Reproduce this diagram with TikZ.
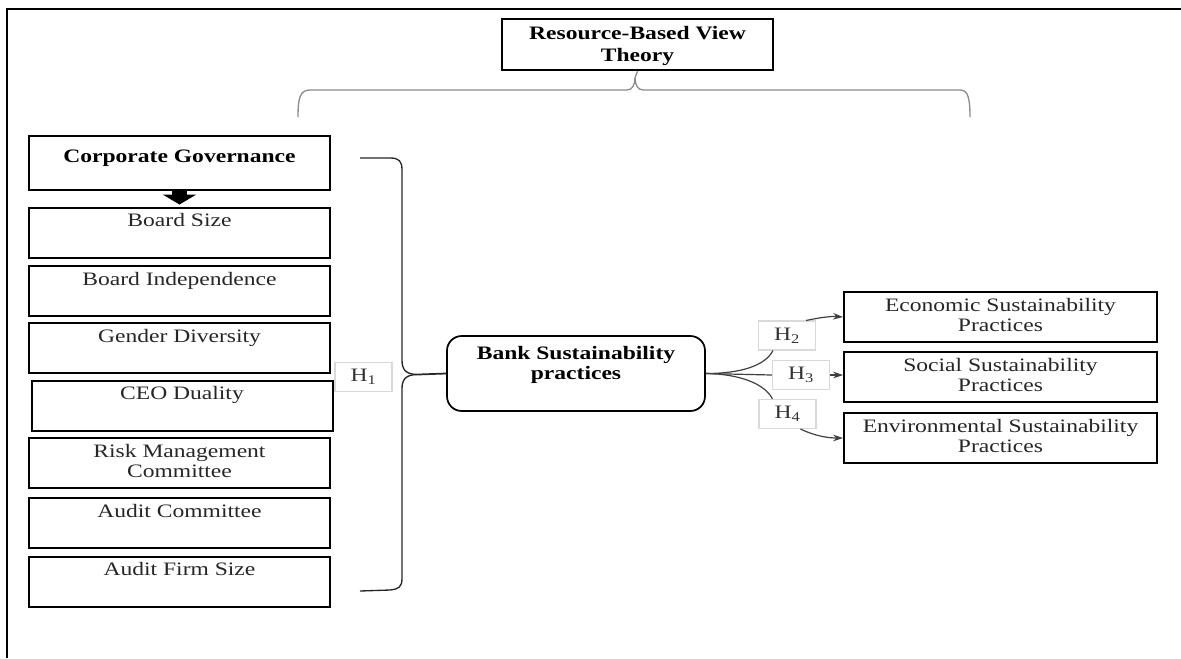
\documentclass[tikz,border=0pt]{standalone}
\usepackage{fontspec}
\setmainfont{Liberation Serif}[FakeStretch=1.24]
\usetikzlibrary{arrows.meta,calc}
\newcommand\mybox[4]{\parbox[c][#2][t]{#1}{\centering\rule{0pt}{#3}#4\par}}
\tikzset{
  box/.style={draw=black, line width=1.5pt, inner sep=0pt, text=black!85},
  hlab/.style={draw=black!15, line width=0.8pt, inner sep=0pt, minimum width=42.75pt, minimum height=21.75pt, text=black!80},
  conn/.style={draw=black!75, line width=0.9pt},
  arr/.style={conn, -{Stealth[length=7.5pt,width=5pt]}},
  graybrace/.style={draw=black!45, line width=1pt},
  darkbrace/.style={draw=black!85, line width=1pt},
}
\begin{document}
\begin{tikzpicture}[x=0.75pt,y=-0.75pt, font=\fontsize{14.25}{15}\selectfont]
\useasboundingbox (0,0) rectangle (1181,658);
% frame
\draw[line width=1.3pt] (7,658) -- (7,9) -- (1181,9);
% title
\node[box, line width=1.8pt, text=black] (title) at (637.5,44.5) {\mybox{203.25pt}{38.25pt}{15.4pt}{\bfseries Resource-Based View\\[1.5pt] Theory}};
% left column
\node[box, text=black] (cg) at (179.5,163) {\mybox{225.75pt}{40.5pt}{20pt}{\bfseries Corporate Governance}};
\node[box] (bs) at (179.5,232.5) {\mybox{225.75pt}{37.5pt}{14.5pt}{Board Size}};
\node[box] (bi) at (179.5,291) {\mybox{225.75pt}{37.5pt}{14.5pt}{Board Independence}};
\node[box] (gd) at (179.5,348) {\mybox{225.75pt}{37.5pt}{14.5pt}{Gender Diversity}};
\node[box] (ceo) at (182,405.5) {\mybox{225.75pt}{37.5pt}{14.5pt}{CEO Duality}};
\node[box] (rm) at (179.5,463) {\mybox{225.75pt}{37.5pt}{14.5pt}{Risk Management\\Committee}};
\node[box] (ac) at (179.5,523) {\mybox{225.75pt}{37.5pt}{14.5pt}{Audit Committee}};
\node[box] (afs) at (179.5,581.5) {\mybox{225.75pt}{37.5pt}{14.5pt}{Audit Firm Size}};
% block arrow
\draw[line width=11pt, -{Triangle[length=7.5pt,width=25pt]}, shorten >=1.5pt] (cg.south) -- (bs.north);
% central box
\node[box, rounded corners=11pt, line width=1.3pt, text=black] (bank) at (576,373.5) {\mybox{193.5pt}{56.25pt}{17.6pt}{\bfseries Bank Sustainability\\practices}};
% right boxes
\node[box] (econ) at (1000.5,317) {\mybox{234.75pt}{37.5pt}{14.5pt}{Economic Sustainability\\Practices}};
\node[box] (soc) at (1000.5,377) {\mybox{234.75pt}{37.5pt}{14.5pt}{Social Sustainability\\Practices}};
\node[box] (env) at (1000.5,438) {\mybox{234.75pt}{37.5pt}{14.5pt}{Environmental Sustainability\\Practices}};
% hypothesis labels
\node[hlab] (h1) at (363.5,377) {H\textsubscript{1}};
\node[hlab] (h2) at (787,335.5) {H\textsubscript{2}};
\node[hlab] (h3) at (801,375) {H\textsubscript{3}};
\node[hlab] (h4) at (787.5,414) {H\textsubscript{4}};
% top brace
\coordinate (tl) at (298,117);
\coordinate (tr) at (970,117);
\coordinate (tip) at (635,78);
\draw[graybrace] (tl) .. controls (298,98) and (300,90) .. (310,90) -- (627,90) .. controls (632,90) and (635,85) .. (tip) -- (title.south);
\draw[graybrace] (tip) .. controls (635,85) and (638,90) .. (643,90) -- (960,90) .. controls (968,90) and (970,98) .. (tr);
% left brace
\coordinate (bt) at (360,158);
\coordinate (bb) at (360,591);
\coordinate (bm) at (418,374.5);
\draw[darkbrace] (bt) -- (390,158) .. controls (399,158) and (402,161) .. (402,170) -- (402,360) .. controls (402,369) and (405,374.5) .. (bm);
\draw[darkbrace] (bm) .. controls (405,374.5) and (402,380) .. (402,389) -- (402,578) .. controls (402,587) and (399,589) .. (390,590) -- (bb);
\draw[darkbrace, line width=1.3pt] (bm) -- (bank.west);
% right connectors
\draw[conn] (bank.east) .. controls (740,373.5) and (765,366) .. ($(h2.south west)+(15,0)$);
\draw[arr] ($(h2.north east)+(-10,0)$) .. controls (818,318) and (830,316) .. (econ.west);
\draw[conn] (bank.east) -- (h3.west);
\draw[arr] (h3.east) -- (h3.east -| soc.west);
\draw[conn] (bank.east) .. controls (740,374) and (765,384) .. ($(h4.north west)+(14,0)$);
\draw[arr] ($(h4.south west)+(42,0)$) .. controls (815,436) and (828,438) .. (env.west);
\end{tikzpicture}
\end{document}
